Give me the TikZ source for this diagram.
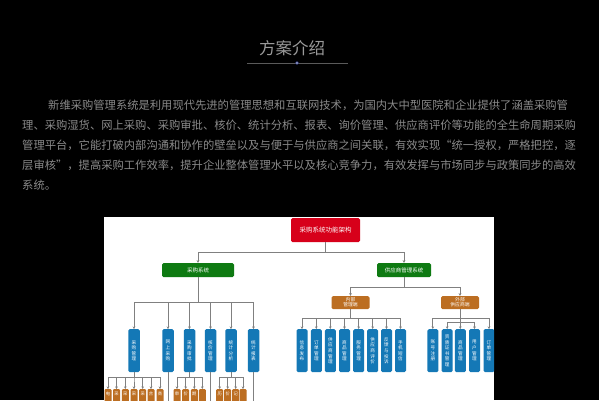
\documentclass[tikz,border=0pt]{standalone}
\usepackage{fontspec}
\setmainfont{Noto Sans CJK SC}
\usetikzlibrary{arrows.meta}
\definecolor{titlec}{HTML}{9A9A9A}
\definecolor{txtc}{HTML}{8A8A8A}
\definecolor{rulec}{HTML}{5A5A5A}
\definecolor{dotc}{HTML}{34408C}
\definecolor{redc}{HTML}{D7001A}
\definecolor{greenc}{HTML}{0E7A12}
\definecolor{bluec}{HTML}{1478B6}
\definecolor{orangec}{HTML}{BC6E22}
\definecolor{linec}{HTML}{808080}
\tikzset{
  para/.style={anchor=west,text=txtc,inner sep=0pt,font=\fontsize{11.3}{11.3}\selectfont},
  conn/.style={draw=linec,line width=0.7pt},
  arr/.style={conn,-{Stealth[length=2.6pt,width=2.6pt]}},
  redbox/.style={fill=redc,rounded corners=1.5pt,minimum width=69pt,minimum height=24pt,text=white,inner sep=0pt,font=\fontsize{6.5}{7}\selectfont},
  greenbox/.style={fill=greenc,rounded corners=1.5pt,minimum height=14pt,text=white,inner sep=0pt,font=\fontsize{5.5}{6}\selectfont},
  midbox/.style={fill=orangec,rounded corners=1.5pt,minimum width=38pt,minimum height=13pt,text=white,inner sep=0pt,align=center,font=\fontsize{4.8}{5.2}\selectfont},
  bluebox/.style={fill=bluec,rounded corners=1.5pt,minimum width=11.5pt,minimum height=43pt,anchor=north,text=white,inner sep=0pt,align=center,font=\fontsize{4.6}{5.6}\selectfont},
  leafbox/.style={fill=orangec,rounded corners=1pt,minimum width=7pt,minimum height=30pt,anchor=north,text=white,inner sep=0pt,font=\fontsize{4.3}{5.2}\selectfont},
  leaftxt/.style={anchor=north,text=white,inner sep=0pt,font=\fontsize{4.3}{5.2}\selectfont},
}
\begin{document}
\begin{tikzpicture}[x=1pt,y=-1pt]
\useasboundingbox (0,0) rectangle (599,400);
\fill[black] (0,0) rectangle (599,400);

% title
\node[text=titlec,inner sep=0pt,font=\fontsize{16.5}{16.5}\selectfont] (title) at (292,48) {方案介绍};
\draw[rulec,line width=1pt] (247,63) -- (348,63);
\fill[dotc] (297,63) circle (1.8pt);
\fill[white!70!dotc] (297,63) circle (0.8pt);

% paragraph
\node[para] (p1) at (48,105) {新维采购管理系统是利用现代先进的管理思想和互联网技术，为国内大中型医院和企业提供了涵盖采购管};
\node[para] (p2) at (22,125) {理、采购湿货、网上采购、采购审批、核价、统计分析、报表、询价管理、供应商评价等功能的全生命周期采购};
\node[para] (p3) at (22,145) {管理平台，它能打破内部沟通和协作的壁垒以及与便于与供应商之间关联，有效实现“统一授权，严格把控，逐};
\node[para] (p4) at (22,165) {层审核”，提高采购工作效率，提升企业整体管理水平以及核心竞争力，有效发挥与市场同步与政策同步的高效};
\node[para] (p5) at (22,185) {系统。};

% panel
\fill[white] (104,217) rectangle (494,400);
\begin{scope}
\clip (104,217) rectangle (494,400);

\node[redbox] (root) at (325.5,230) {采购系统功能架构};
\node[greenbox,minimum width=72pt] (g1) at (198,270) {采购系统};
\node[greenbox,minimum width=54pt] (g2) at (404,270) {供应商管理系统};
\draw[arr] (root.south) -- ++(0,10) -| (g1.north);
\draw[arr] (root.south) -- ++(0,10) -| (g2.north);

% left blue
\node[bluebox] (b1) at (134,329) {采\\购\\管\\理};
\node[bluebox] (b2) at (168,329) {网\\上\\采\\购};
\node[bluebox] (b3) at (189.5,329) {采\\购\\审\\批};
\node[bluebox] (b4) at (210.5,329) {核\\价\\管\\理};
\node[bluebox] (b5) at (231,329) {统\\计\\分\\析};
\node[bluebox] (b6) at (253.5,329) {统\\计\\报\\表};
\foreach \b in {b1,b2,b3,b4,b5,b6}
  \draw[arr] (g1.south) -- ++(0,25) -| (\b.north);

% continuing lines
\coordinate (e2) at (168,405);
\coordinate (e4) at (210.5,405);
\coordinate (e6) at (253.5,405);
\draw[conn] (b2.south) -- (e2);
\draw[conn] (b4.south) -- (e4);
\draw[conn] (b6.south) -- (e6);

% leaves
\foreach \n/\x/\c/\p in {l11/108/电/b1, l12/116.5/采/b1, l13/125.3/采/b1, l14/134/采/b1, l15/142.7/采/b1, l16/151/合/b1, l17/160/商/b1,
                         l21/177/审/b3, l22/185.7/价/b3, l23/194.3/期/b3, l24/202.3//b3,
                         l31/219.7/历/b5, l32/227.7/价/b5, l33/235.7/记/b5, l34/243//b5}{
  \node[leafbox] (\n) at (\x,389) {};
  \node[leaftxt] (\n t) at (\x,391.5) {\c};
  \draw[arr] (\p.south) -- ++(0,5) -| (\n.north);
}

% right side
\node[midbox] (m1) at (350.5,302.5) {内部\\管理端};
\node[midbox] (m2) at (460,302.5) {外部\\供应商端};
\draw[arr] (g2.south) -- ++(0,10) -| (m1.north);
\draw[arr] (g2.south) -- ++(0,10) -| (m2.north);

\node[bluebox,minimum width=11pt] (r1) at (302,329) {信\\息\\发\\布};
\node[bluebox,minimum width=11pt] (r2) at (316.3,329) {订\\单\\管\\理};
\node[bluebox,minimum width=11pt] (r3) at (330.3,329) {供\\应\\商\\管\\理};
\node[bluebox,minimum width=11pt] (r4) at (344.5,329) {商\\品\\管\\理};
\node[bluebox,minimum width=11pt] (r5) at (358.7,329) {服\\务\\管\\理};
\node[bluebox,minimum width=11pt] (r6) at (372.7,329) {供\\应\\商\\评\\价};
\node[bluebox,minimum width=11pt] (r7) at (386.5,329) {反\\馈\\与\\投\\诉};
\node[bluebox,minimum width=11pt] (r8) at (400.5,329) {手\\机\\短\\信};
\foreach \r in {r1,r2,r3,r4,r5,r6,r7,r8}
  \draw[arr] (m1.south) -- ++(0,9) -| (\r.north);

\node[bluebox,minimum width=11pt] (s1) at (432.8,329) {账\\号\\注\\册};
\node[bluebox,minimum width=11pt] (s2) at (447.2,329) {资\\质\\证\\书\\管\\理};
\node[bluebox,minimum width=11pt] (s3) at (460.3,329) {商\\品\\管\\理};
\node[bluebox,minimum width=11pt] (s4) at (474.5,329) {用\\户\\管\\理};
\node[bluebox,minimum width=11pt] (s5) at (489,329) {订\\单\\管\\理};
\foreach \s in {s1,s5}
  \draw[arr] (m2.south) -- ++(0,9) -| (\s.north);
\foreach \s in {s2,s3,s4}
  \draw[arr] (m2.south) -- ++(0,13) -| (\s.north);
\end{scope}
\end{tikzpicture}
\end{document}
